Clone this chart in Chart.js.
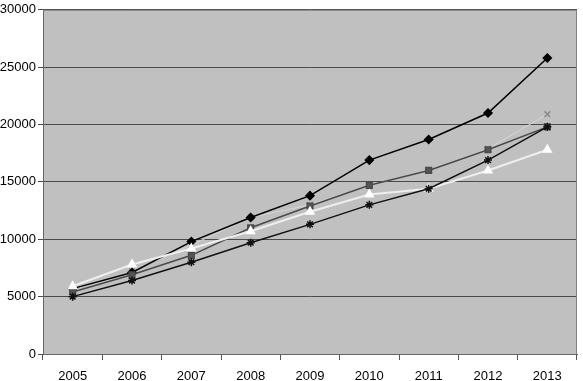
<!DOCTYPE html>
<html>
<head>
<meta charset="utf-8">
<script src="https://cdn.jsdelivr.net/npm/chart.js@4.4.1/dist/chart.umd.min.js"></script>
<style>
  html, body { margin: 0; padding: 0; background: #fff; }
  #wrap { width: 583px; height: 381px; position: relative; }
</style>
</head>
<body>
<div id="wrap"><canvas id="c"></canvas></div>
<script>
const years = ['2005','2006','2007','2008','2009','2010','2011','2012','2013'];

const blackDiamond = [5700, 7100, 9800, 11900, 13800, 16900, 18700, 21000, 25800];
const graySquare   = [5400, 6900, 8600, 11000, 12900, 14700, 16000, 17800, 19800];
const lightCross   = [5600, 7200, 9500, 11900, 13000, 14700, 16000, 17900, 20900];
const whiteTri     = [5900, 7800, 9200, 10700, 12400, 13900, 14400, 16000, 17800];
const blackStar    = [5000, 6400, 8000, 9700, 11300, 13000, 14400, 16900, 19800];

const yTicks = [0, 5000, 10000, 15000, 20000, 25000, 30000];

// grey plot area + frame
const plotBg = {
  id: 'plotBg',
  beforeDraw(chart) {
    const { ctx, chartArea: a } = chart;
    ctx.save();
    ctx.fillStyle = '#c0c0c0';
    ctx.fillRect(a.left, a.top, a.right - a.left, a.bottom - a.top);
    ctx.restore();
  },
  afterDatasetsDraw(chart) {
    const { ctx, chartArea: a } = chart;
    ctx.save();
    ctx.strokeStyle = '#808080';
    ctx.lineWidth = 1;
    ctx.beginPath();
    ctx.moveTo(a.left, a.top + 0.5);
    ctx.lineTo(a.right - 0.5, a.top + 0.5);
    ctx.lineTo(a.right - 0.5, a.bottom);
    ctx.stroke();
    ctx.restore();
  }
};

const font = { family: 'Liberation Sans, Arial, sans-serif', size: 13 };

new Chart(document.getElementById('c'), {
  type: 'line',
  data: {
    labels: years,
    datasets: [
      { label: 'A', data: blackDiamond, borderColor: '#000', backgroundColor: '#000',
        borderWidth: 1.5, pointStyle: 'rectRot', pointRadius: 4, order: 5 },
      { label: 'B', data: graySquare, borderColor: '#4a4a4a', backgroundColor: '#555',
        borderWidth: 1.5, pointStyle: 'rect', pointRadius: 4, order: 4 },
      { label: 'C', data: lightCross, borderColor: '#d6d6d6', backgroundColor: '#b0b0b0',
        borderWidth: 1, pointStyle: 'crossRot', pointRadius: 4, pointBorderColor: '#8a8a8a', pointBorderWidth: 1.5, order: 6 },
      { label: 'D', data: whiteTri, borderColor: '#eeeeee', backgroundColor: '#fff',
        borderWidth: 2, pointStyle: 'triangle', pointRadius: 4, pointBorderColor: '#fff', order: 3 },
      { label: 'E', data: blackStar, borderColor: '#111', backgroundColor: '#111',
        borderWidth: 1.5, pointStyle: 'star', pointRadius: 4, pointBorderWidth: 1.5, order: 2 },
    ]
  },
  options: {
    responsive: true, maintainAspectRatio: false, animation: false,
    layout: { padding: { top: 6, right: 1, left: 0, bottom: 0 } },
    plugins: { legend: { display: false }, tooltip: { enabled: false } },
    elements: { line: { tension: 0 } },
    scales: {
      x: {
        offset: true,
        grid: { offset: true, drawOnChartArea: false, color: '#555', tickLength: 6 },
        border: { color: '#666' },
        ticks: { color: '#000', font, padding: 9, maxRotation: 0 },
        afterFit: s => { s.height = 27; },
      },
      y: {
        min: 0, max: 30000,
        afterBuildTicks: s => { s.ticks = yTicks.map(v => ({ value: v })); },
        grid: { color: '#4a4a4a', tickLength: 5 },
        border: { color: '#666' },
        ticks: { color: '#000', font, padding: 2, callback: v => String(v) },
        afterFit: s => { s.width = 43; },
      },
    },
  },
  plugins: [plotBg],
});
</script>
</body>
</html>
